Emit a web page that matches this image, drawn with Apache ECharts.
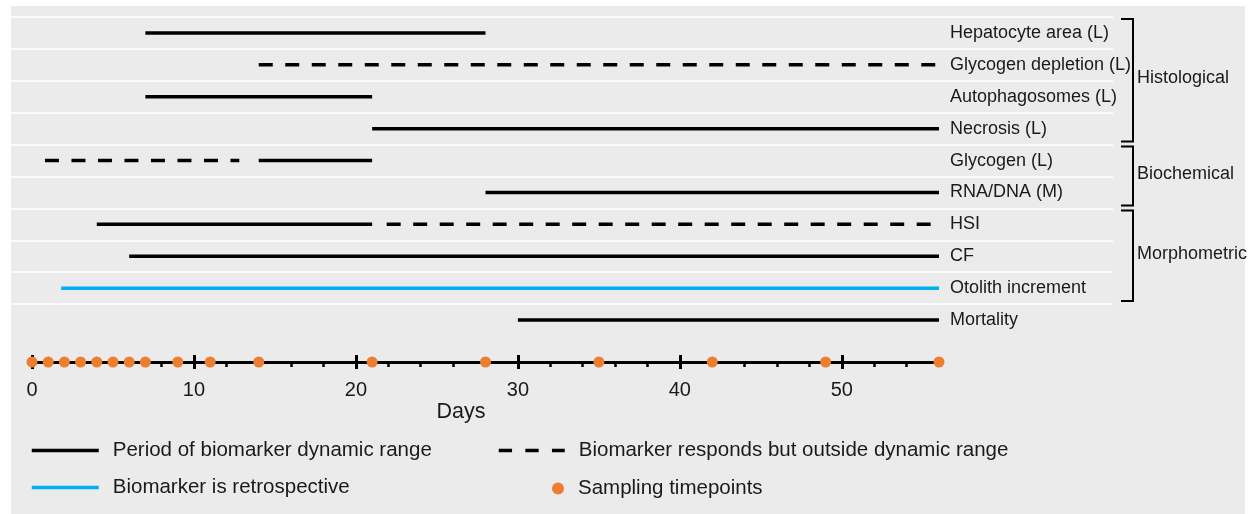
<!DOCTYPE html>
<html>
<head>
<meta charset="utf-8">
<script src="https://cdn.jsdelivr.net/npm/echarts@6/dist/echarts.min.js"></script>
<style>
  html, body { margin: 0; padding: 0; background: #ffffff; }
  #wrap { position: relative; width: 1254px; height: 514px; }
  #panel { position: absolute; left: 11px; top: 6px; width: 1234px; height: 508px; background: #ebebeb; }
  #chart { position: absolute; left: 0; top: 0; width: 1254px; height: 514px; }
</style>
</head>
<body>
<div id="wrap"><div id="panel"></div><div id="chart"></div></div>
<script>
// ---------------- DATA ----------------
const rows = ['Hepatocyte area (L)', 'Glycogen depletion (L)', 'Autophagosomes (L)', 'Necrosis (L)',
  'Glycogen (L)', 'RNA/DNA (M)', 'HSI', 'CF', 'Otolith increment', 'Mortality'];

// [row, startDay, endDay]
const solidSegments = [
  ['Hepatocyte area (L)', 7, 28],
  ['Autophagosomes (L)', 7, 21],
  ['Necrosis (L)', 21, 56],
  ['Glycogen (L)', 14, 21],
  ['RNA/DNA (M)', 28, 56],
  ['HSI', 4, 21],
  ['CF', 6, 56],
  ['Mortality', 30, 56]
];
const dashedSegments = [
  ['Glycogen depletion (L)', 14, 56],
  ['Glycogen (L)', 0.8, 12.8],
  ['HSI', 21.9, 56]
];
const retroSegments = [
  ['Otolith increment', 1.8, 56]
];
const samplingDays = [0, 1, 2, 3, 4, 5, 6, 7, 9, 11, 14, 21, 28, 35, 42, 49, 56];

const majorTicks = [0, 10, 20, 30, 40, 50];
const minorTicks = [2, 4, 6, 8, 12, 14, 16, 18, 22, 24, 26, 28, 32, 34, 36, 38, 42, 44, 46, 48, 52, 54];

// [group label, first row, last row]
const groups = [
  ['Histological', 'Hepatocyte area (L)', 'Necrosis (L)'],
  ['Biochemical', 'Glycogen (L)', 'RNA/DNA (M)'],
  ['Morphometric', 'HSI', 'Otolith increment']
];

const NAME_SOLID = 'Period of biomarker dynamic range';
const NAME_DASH = 'Biomarker responds but outside dynamic range';
const NAME_RETRO = 'Biomarker is retrospective';
const NAME_SAMPLE = 'Sampling timepoints';

// ---------------- CHART ----------------
const FONT = "'Liberation Sans', Arial, Helvetica, sans-serif";
const TXT = '#1a1a1a';
const chart = echarts.init(document.getElementById('chart'), null, { renderer: 'canvas' });

function segSeries(list, name, color, type) {
  return list.map(s => ({
    type: 'line', name: name,
    xAxisIndex: 0, yAxisIndex: 0,
    data: [[s[1], s[0]], [s[2], s[0]]],
    symbol: 'none', silent: true, animation: false,
    lineStyle: { color: color, width: 3.5, type: type, cap: 'butt' },
    itemStyle: { color: color },
    z: 3
  }));
}

const series = [].concat(
  segSeries(solidSegments, NAME_SOLID, '#000000', 'solid'),
  segSeries(dashedSegments, NAME_DASH, '#000000', [14, 12.5]),
  segSeries(retroSegments, NAME_RETRO, '#00b0f0', 'solid'),
  [{
    type: 'scatter', name: NAME_SAMPLE,
    xAxisIndex: 2, yAxisIndex: 2,
    data: samplingDays.map(d => [d, 0]),
    symbol: 'circle', symbolSize: 11, clip: false, animation: false,
    itemStyle: { color: '#ed7d31', opacity: 1 }, z: 5
  }, {
    type: 'custom', name: 'groups',
    xAxisIndex: 1, yAxisIndex: 1, clip: false, silent: true, animation: false,
    data: groups.map(g => [rows.indexOf(g[1]), rows.indexOf(g[2])]),
    encode: { x: -1, y: [0, 1] },
    renderItem: function (params, api) {
      const first = api.value(0), last = api.value(1);
      const band = api.size([0, 1])[1];
      const yTop = api.coord([0, first])[1] - band / 2 + 2;
      const yBot = api.coord([0, last])[1] + band / 2 - 3;
      const x = params.coordSys.x + params.coordSys.width + 20;
      return {
        type: 'group',
        children: [{
          type: 'polyline',
          shape: { points: [[x - 12, yTop], [x, yTop], [x, yBot], [x - 12, yBot]] },
          style: { stroke: '#000', lineWidth: 2, fill: null }
        }, {
          type: 'text', x: x + 4, y: (yTop + yBot) / 2 - 2,
          style: { text: groups[params.dataIndex][0], fontSize: 18, fontFamily: FONT, fill: TXT,
                   align: 'left', verticalAlign: 'middle' }
        }]
      };
    }
  }]
);

const legendText = { fontSize: 20.5, fontFamily: FONT, color: TXT, padding: [0, 0, 0, 9] };

const option = {
  animation: false,
  textStyle: { fontFamily: FONT },
  title: {
    text: 'Days', left: 461, top: 401, textAlign: 'center', padding: 0,
    textStyle: { fontSize: 21.5, fontWeight: 'normal', fontFamily: FONT, color: TXT }
  },
  legend: [{
    data: [NAME_SOLID, NAME_RETRO], orient: 'vertical', left: 30, top: 440, padding: 0,
    itemWidth: 67, itemHeight: 14, itemGap: 16, textStyle: legendText, selectedMode: false,
    itemStyle: { opacity: 0 }, lineStyle: { width: 3.5 }
  }, {
    data: [NAME_DASH], orient: 'vertical', left: 497, top: 440, padding: 0,
    itemWidth: 66, itemHeight: 14, textStyle: legendText, selectedMode: false,
    itemStyle: { opacity: 0 }, lineStyle: { type: [13.3, 13.3], width: 3.5 }
  }, {
    data: [NAME_SAMPLE], orient: 'vertical', left: 552, top: 478, padding: 0,
    itemWidth: 12, itemHeight: 12, textStyle: legendText, selectedMode: false
  }],
  grid: [
    { left: 32, width: 907, top: 17, height: 319 },
    { left: 11, width: 1102, top: 17, height: 319 },
    { left: 32, width: 907, top: 340, height: 22 }
  ],
  xAxis: [
    { gridIndex: 0, type: 'value', min: 0, max: 56, show: false },
    { gridIndex: 1, type: 'value', min: 0, max: 1, show: false },
    { gridIndex: 2, type: 'value', min: 0, max: 56, position: 'bottom',
      axisLine: { onZero: false, lineStyle: { color: '#000', width: 3 } },
      axisTick: { customValues: majorTicks, length: 7, lineStyle: { color: '#000', width: 3 } },
      axisLabel: { customValues: majorTicks, fontSize: 20, color: TXT, margin: 18, fontFamily: FONT },
      splitLine: { show: false } },
    { gridIndex: 2, type: 'value', min: 0, max: 56, position: 'bottom',
      axisLine: { show: false, onZero: false },
      axisTick: { customValues: majorTicks, inside: true, length: 7, lineStyle: { color: '#000', width: 3 } },
      axisLabel: { show: false }, splitLine: { show: false } },
    { gridIndex: 2, type: 'value', min: 0, max: 56, position: 'bottom',
      axisLine: { show: false, onZero: false },
      axisTick: { customValues: minorTicks, length: 5, lineStyle: { color: '#000', width: 2.5 } },
      axisLabel: { show: false }, splitLine: { show: false } }
  ],
  yAxis: [
    { gridIndex: 0, type: 'category', data: rows, inverse: true, position: 'right',
      axisLine: { show: false }, axisTick: { show: false },
      axisLabel: { interval: 0, margin: 11, fontSize: 18, color: TXT, fontFamily: FONT },
      splitLine: { show: false } },
    { gridIndex: 1, type: 'category', data: rows, inverse: true,
      axisLine: { show: false }, axisTick: { show: false, interval: 0 },
      axisLabel: { show: false, interval: 0 },
      splitLine: { show: true, interval: 0, showMaxLine: false, lineStyle: { color: '#fafafa', width: 2 } } },
    { gridIndex: 2, type: 'value', min: 0, max: 1, show: false }
  ],
  series: series
};
chart.setOption(option);
</script>
</body>
</html>
